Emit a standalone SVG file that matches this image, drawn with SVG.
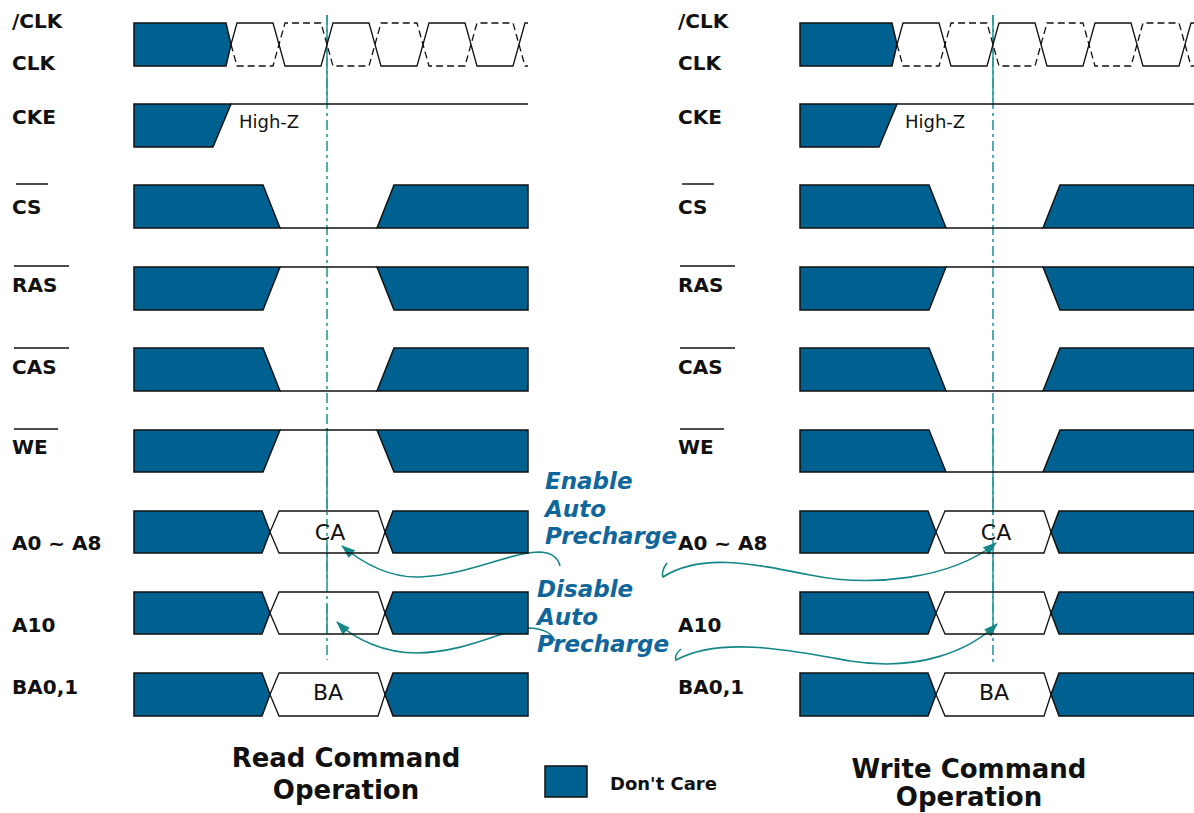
<svg xmlns="http://www.w3.org/2000/svg" width="1194" height="813" viewBox="0 0 1194 813">
<style>
.lbl{font-family:"DejaVu Sans","Verdana",sans-serif;font-weight:bold;font-size:20px;fill:#111}
.val{font-family:"DejaVu Sans","Verdana",sans-serif;font-size:22px;fill:#111;text-anchor:middle}
.hz{font-family:"DejaVu Sans","Verdana",sans-serif;font-size:18px;fill:#111}
.note{font-family:"DejaVu Sans","Verdana",sans-serif;font-weight:bold;font-style:italic;font-size:23px;fill:#10669a}
.title{font-family:"DejaVu Sans","Verdana",sans-serif;font-weight:bold;font-size:26px;fill:#111;text-anchor:middle}
.leg{font-family:"DejaVu Sans","Verdana",sans-serif;font-weight:bold;font-size:18px;fill:#111}
.dc{fill:#006190;stroke:#111;stroke-width:1.5;stroke-linejoin:miter}
.hex{fill:none;stroke:#111;stroke-width:1.3}
.sig{fill:none;stroke:#111;stroke-width:1.3}
.sigd{fill:none;stroke:#111;stroke-width:1.3;stroke-dasharray:7 4}
.bar{stroke:#111;stroke-width:1.5}
.vl{stroke:#2b9a9a;stroke-width:1.6;fill:none}
.vld{stroke:#2b9a9a;stroke-width:1.6;fill:none;stroke-dasharray:10 4 3 4}
.arr{fill:none;stroke:#148686;stroke-width:1.6;marker-end:url(#ah)}
</style>
<defs>
<marker id="ah" viewBox="0 0 14 10" refX="13" refY="5" markerWidth="14" markerHeight="10" markerUnits="userSpaceOnUse" orient="auto">
<path d="M0,0 L14,5 L0,10 z" fill="#148686"/>
</marker>
<g id="panelBase">
<path class="dc" d="M134,23 H226 L231,44.5 L226,66 H134 Z"/>
<path class="sig" d="M231,44.5 L237,23 H273 L285,66 H321 L333,23 H369 L381,66 H417 L429,23 H465 L477,66 H513 L525,23 H528"/>
<path class="sigd" d="M231,44.5 L237,66 H273 L285,23 H321 L333,66 H369 L381,23 H417 L429,66 H465 L477,23 H513 L525,66 H528"/>
</g>
</defs>
<rect width="1194" height="813" fill="#fff"/>

<g id="marker-lines">
<line class="vld" x1="327" y1="15" x2="327" y2="660"/>
<line class="vl" x1="327" y1="15" x2="327" y2="100"/>
<line class="vl" x1="327" y1="428" x2="327" y2="510"/>
<line class="vl" x1="327" y1="545" x2="327" y2="582"/>
<line class="vl" x1="327" y1="605" x2="327" y2="633"/>
<line class="vld" x1="993" y1="15" x2="993" y2="662"/>
<line class="vl" x1="993" y1="15" x2="993" y2="100"/>
<line class="vl" x1="993" y1="428" x2="993" y2="515"/>
<line class="vl" x1="993" y1="545" x2="993" y2="625"/>
</g>

<g id="connectors">
<path class="arr" d="M560,566 Q557,553 540,552 C510,552 470,575 420,577 C390,578 365,565 342,546"/>
<path class="arr" d="M555,641 Q550,629 530,628 C505,628 470,652 417,653 C385,653 355,640 337,622"/>
<path class="arr" d="M667,563 Q661,571 663,577 C700,553 750,563 810,575 C870,587 950,580 996,543"/>
<path class="arr" d="M681,649 Q674,655 676,660 C720,636 790,650 850,661 C920,672 970,650 997,624"/>
</g>

<g id="read">
<g id="read-clk">
<text class="lbl" x="12" y="28">/CLK</text>
<text class="lbl" x="12" y="70">CLK</text>
<use href="#panelBase"/>
</g>
<g id="read-cke">
<text class="lbl" x="12" y="124">CKE</text>
<path class="dc" d="M134,104 H231 L213,147 H134 Z"/>
<line class="sig" x1="231" y1="104" x2="528" y2="104"/>
<text class="hz" x="239" y="128">High-Z</text>
</g>
<g id="read-cs">
<line class="bar" x1="16" y1="184" x2="48" y2="184"/>
<text class="lbl" x="12" y="214">CS</text>
<path class="dc" d="M134,185 H263 L280,228 H134 Z"/>
<line class="sig" x1="280" y1="228" x2="377" y2="228"/>
<path class="dc" d="M377,228 L394,185 H528 V228 Z"/>
</g>
<g id="read-ras">
<line class="bar" x1="14" y1="266" x2="69" y2="266"/>
<text class="lbl" x="12" y="292">RAS</text>
<path class="dc" d="M134,267 H280 L263,310 H134 Z"/>
<line class="sig" x1="280" y1="267" x2="377" y2="267"/>
<path class="dc" d="M377,267 H528 V310 H394 Z"/>
</g>
<g id="read-cas">
<line class="bar" x1="14" y1="348" x2="69" y2="348"/>
<text class="lbl" x="12" y="374">CAS</text>
<path class="dc" d="M134,348 H263 L280,391 H134 Z"/>
<line class="sig" x1="280" y1="391" x2="377" y2="391"/>
<path class="dc" d="M377,391 L394,348 H528 V391 Z"/>
</g>
<g id="read-we">
<line class="bar" x1="14" y1="429" x2="58" y2="429"/>
<text class="lbl" x="12" y="454">WE</text>
<path class="dc" d="M134,430 H280 L263,472 H134 Z"/>
<line class="sig" x1="280" y1="430" x2="377" y2="430"/>
<path class="dc" d="M377,430 H528 V472 H394 Z"/>
</g>
<g id="read-a0">
<text class="lbl" x="12" y="550">A0 ~ A8</text>
<path class="dc" d="M134,511 H262 L270,532 L262,553 H134 Z"/>
<path class="hex" d="M270,532 L279,511 H378 L385,532 L378,553 H279 Z"/>
<path class="dc" d="M385,532 L393,511 H528 V553 H393 Z"/>
<text class="val" x="330" y="540">CA</text>
</g>
<g id="read-a10">
<text class="lbl" x="12" y="632">A10</text>
<path class="dc" d="M134,592 H262 L270,613 L262,634 H134 Z"/>
<path class="hex" d="M270,613 L279,592 H378 L385,613 L378,634 H279 Z"/>
<path class="dc" d="M385,613 L393,592 H528 V634 H393 Z"/>
</g>
<g id="read-ba">
<text class="lbl" x="12" y="694">BA0,1</text>
<path class="dc" d="M134,673 H262 L270,694.5 L262,716 H134 Z"/>
<path class="hex" d="M270,694.5 L279,673 H378 L385,694.5 L378,716 H279 Z"/>
<path class="dc" d="M385,694.5 L393,673 H528 V716 H393 Z"/>
<text class="val" x="328" y="700">BA</text>
</g>
</g>

<g id="write" transform="translate(666,0)">
<g id="write-clk">
<text class="lbl" x="12" y="28">/CLK</text>
<text class="lbl" x="12" y="70">CLK</text>
<use href="#panelBase"/>
</g>
<g id="write-cke">
<text class="lbl" x="12" y="124">CKE</text>
<path class="dc" d="M134,104 H231 L213,147 H134 Z"/>
<line class="sig" x1="231" y1="104" x2="528" y2="104"/>
<text class="hz" x="239" y="128">High-Z</text>
</g>
<g id="write-cs">
<line class="bar" x1="16" y1="184" x2="48" y2="184"/>
<text class="lbl" x="12" y="214">CS</text>
<path class="dc" d="M134,185 H263 L280,228 H134 Z"/>
<line class="sig" x1="280" y1="228" x2="377" y2="228"/>
<path class="dc" d="M377,228 L394,185 H528 V228 Z"/>
</g>
<g id="write-ras">
<line class="bar" x1="14" y1="266" x2="69" y2="266"/>
<text class="lbl" x="12" y="292">RAS</text>
<path class="dc" d="M134,267 H280 L263,310 H134 Z"/>
<line class="sig" x1="280" y1="267" x2="377" y2="267"/>
<path class="dc" d="M377,267 H528 V310 H394 Z"/>
</g>
<g id="write-cas">
<line class="bar" x1="14" y1="348" x2="69" y2="348"/>
<text class="lbl" x="12" y="374">CAS</text>
<path class="dc" d="M134,348 H263 L280,391 H134 Z"/>
<line class="sig" x1="280" y1="391" x2="377" y2="391"/>
<path class="dc" d="M377,391 L394,348 H528 V391 Z"/>
</g>
<g id="write-we">
<line class="bar" x1="14" y1="429" x2="58" y2="429"/>
<text class="lbl" x="12" y="454">WE</text>
<path class="dc" d="M134,430 H263 L280,472 H134 Z"/>
<line class="sig" x1="280" y1="472" x2="377" y2="472"/>
<path class="dc" d="M377,472 L394,430 H528 V472 Z"/>
</g>
<g id="write-a0">
<text class="lbl" x="12" y="550">A0 ~ A8</text>
<path class="dc" d="M134,511 H262 L270,532 L262,553 H134 Z"/>
<path class="hex" d="M270,532 L279,511 H378 L385,532 L378,553 H279 Z"/>
<path class="dc" d="M385,532 L393,511 H528 V553 H393 Z"/>
<text class="val" x="330" y="540">CA</text>
</g>
<g id="write-a10">
<text class="lbl" x="12" y="632">A10</text>
<path class="dc" d="M134,592 H262 L270,613 L262,634 H134 Z"/>
<path class="hex" d="M270,613 L279,592 H378 L385,613 L378,634 H279 Z"/>
<path class="dc" d="M385,613 L393,592 H528 V634 H393 Z"/>
</g>
<g id="write-ba">
<text class="lbl" x="12" y="694">BA0,1</text>
<path class="dc" d="M134,673 H262 L270,694.5 L262,716 H134 Z"/>
<path class="hex" d="M270,694.5 L279,673 H378 L385,694.5 L378,716 H279 Z"/>
<path class="dc" d="M385,694.5 L393,673 H528 V716 H393 Z"/>
<text class="val" x="328" y="700">BA</text>
</g>
</g>

<g id="note-enable">
<text class="note" x="545" y="489">Enable</text>
<text class="note" x="545" y="517">Auto</text>
<text class="note" x="545" y="544">Precharge</text>
</g>
<g id="note-disable">
<text class="note" x="537" y="597">Disable</text>
<text class="note" x="537" y="625">Auto</text>
<text class="note" x="537" y="652">Precharge</text>
</g>

<g id="title-read">
<text class="title" x="346" y="767">Read Command</text>
<text class="title" x="346" y="799">Operation</text>
</g>
<g id="legend">
<rect class="dc" x="545" y="766" width="42" height="31"/>
<text class="leg" x="610" y="790">Don't Care</text>
</g>
<g id="title-write">
<text class="title" x="969" y="778">Write Command</text>
<text class="title" x="969" y="806">Operation</text>
</g>
</svg>
